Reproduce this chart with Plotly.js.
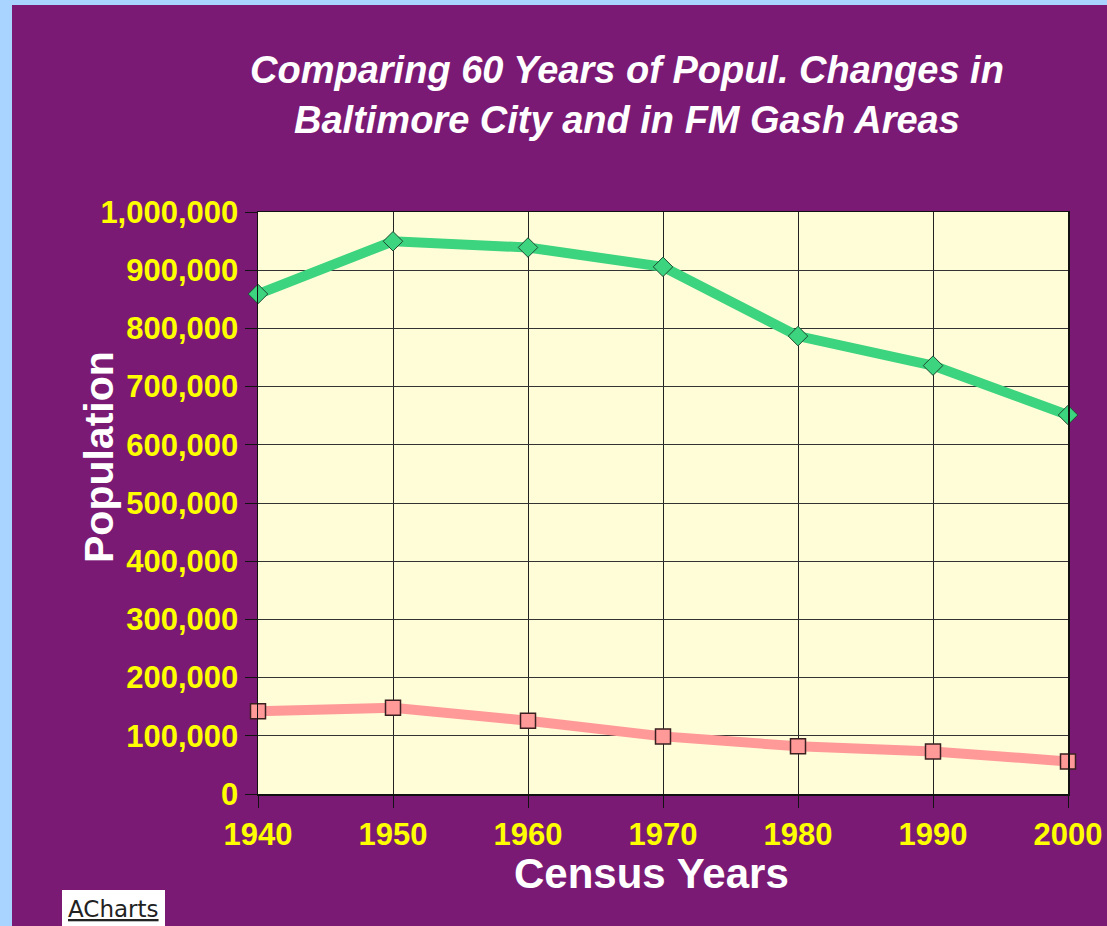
<!DOCTYPE html>
<html>
<head>
<meta charset="utf-8">
<script src="https://cdn.plot.ly/plotly-3.0.1.min.js"></script>
<style>
  html, body { margin: 0; padding: 0; background: #A8D4FF; width: 1107px; height: 926px; overflow: hidden; }
  #chart { position: absolute; left: 12px; top: 5px; width: 1095px; height: 921px; }
</style>
</head>
<body>
<div id="chart"></div>
<script>
const years = [1940, 1950, 1960, 1970, 1980, 1990, 2000];
const baltimoreCity = [859100, 949708, 939024, 905759, 786775, 736014, 651154];
const fmGashAreas = [142000, 148000, 126000, 99000, 82000, 73000, 56000];
const yTickVals = [0, 100000, 200000, 300000, 400000, 500000, 600000, 700000, 800000, 900000, 1000000];
const yTickText = ["0", "100,000", "200,000", "300,000", "400,000", "500,000", "600,000", "700,000", "800,000", "900,000", "1,000,000"];

const FONT = 'Liberation Sans, Arial, sans-serif';

const traces = [
  {
    x: years, y: baltimoreCity, name: 'Baltimore City', type: 'scatter', mode: 'lines+markers',
    line: { color: '#3CD47E', width: 10 },
    marker: { symbol: 'diamond', size: 15, color: '#3CD47E', line: { color: '#1f4a33', width: 1 } },
    cliponaxis: false
  },
  {
    x: years, y: fmGashAreas, name: 'FM Gash Areas', type: 'scatter', mode: 'lines+markers',
    line: { color: '#FF9A99', width: 10 },
    marker: { symbol: 'square', size: 15, color: '#FF9A99', line: { color: '#3a2020', width: 1.5 } },
    cliponaxis: false
  }
];

// pixel helpers relative to plot area (258..1068 x, 212..794 y in page coords)
const px = v => (v - 258) / 810;
const py = v => (794 - v) / 582;

const layout = {
  width: 1095, height: 921,
  paper_bgcolor: '#7B1A74',
  plot_bgcolor: '#FFFDD8',
  showlegend: false,
  margin: { l: 246, r: 39, t: 207, b: 132, pad: 0 },
  title: {
    text: 'Comparing 60 Years of Popul. Changes in<br>Baltimore City and in FM Gash Areas',
    font: { family: FONT, size: 38, color: '#FFFFFF', weight: 'bold', style: 'italic' },
    xref: 'container', x: 0.5616, xanchor: 'center',
    yref: 'container', y: 0.915, yanchor: 'top'
  },
  xaxis: {
    range: [1940, 2000],
    tickvals: years,
    ticktext: years.map(String),
    ticks: 'outside', ticklen: 12, tickcolor: '#111', tickwidth: 1,
    showgrid: true, gridcolor: '#222', gridwidth: 1,
    showline: true, linecolor: '#111', linewidth: 1.5, mirror: true,
    zeroline: false,
    tickfont: { family: FONT, size: 31, color: '#FFFF00', weight: 'bold' }
  },
  yaxis: {
    range: [0, 1000000],
    tickvals: yTickVals,
    ticktext: yTickText,
    ticks: 'outside', ticklen: 12, tickcolor: '#111', tickwidth: 1,
    showgrid: true, gridcolor: '#333', gridwidth: 1,
    showline: true, linecolor: '#111', linewidth: 1.5, mirror: true,
    zeroline: false,
    tickfont: { family: FONT, size: 31, color: '#FFFF00', weight: 'bold' }
  },
  annotations: [
    {
      text: 'Census Years', showarrow: false,
      xref: 'paper', yref: 'paper',
      x: px(651), xanchor: 'center', y: py(873), yanchor: 'middle',
      font: { family: FONT, size: 42, color: '#FFFFFF', weight: 'bold' }
    },
    {
      text: 'Population', showarrow: false, textangle: -90,
      xref: 'paper', yref: 'paper',
      x: px(99), xanchor: 'center', y: py(457), yanchor: 'middle',
      font: { family: FONT, size: 41, color: '#FFFFFF', weight: 'bold' }
    },
    {
      text: '<u>ACharts</u>', showarrow: false,
      xref: 'paper', yref: 'paper',
      x: px(62), xanchor: 'left',
      y: py(928), yanchor: 'bottom',
      bgcolor: '#FFFFFF', borderpad: 6, borderwidth: 0,
      font: { family: 'DejaVu Sans, sans-serif', size: 23, color: '#222222' }
    }
  ]
};

Plotly.newPlot('chart', traces, layout, { displayModeBar: false, staticPlot: true });
</script>
</body>
</html>
